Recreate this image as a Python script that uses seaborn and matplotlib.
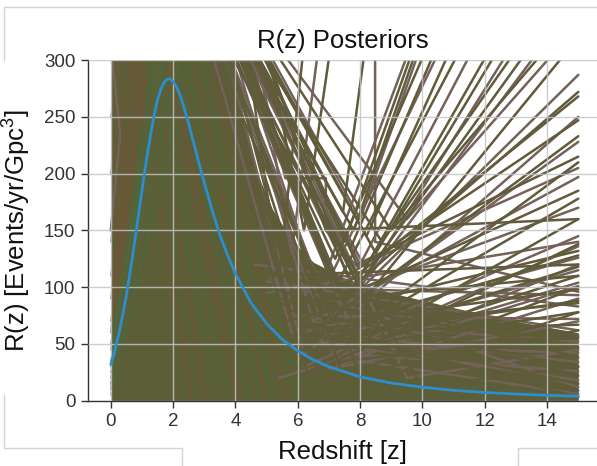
import numpy as np
import pandas as pd
import matplotlib.pyplot as plt
from matplotlib.lines import Line2D
import seaborn as sns

# blue reference rate curve
curve_z = [0, 0.1, 0.25, 0.4, 0.5, 0.6, 0.75, 0.9, 1.0, 1.1, 1.25, 1.3, 1.4, 1.5, 1.6,
           1.7, 1.8, 1.9, 2.0, 2.1, 2.2, 2.25, 2.4, 2.5, 2.6, 2.75, 2.8, 3.0, 3.25, 3.5,
           3.75, 4.0, 4.5, 5.0, 5.5, 6.0, 6.5, 7.0, 8.0, 9.0, 10.0, 11.0, 12.0, 13.0,
           14.0, 15.0]
curve_r = [32, 41, 58, 78, 93, 110, 137, 166, 185, 204, 230, 238, 253, 265, 274,
           280, 283, 283.5, 281, 277, 270.5, 267, 253.5, 244, 233, 218, 212, 192, 168, 146,
           128, 112, 86, 68, 54, 44, 36, 30, 21, 15.6, 11.9, 9.2, 7.3, 5.9,
           4.8, 4.0]

# dense core of the posterior draws (upper envelope)
core_z = [0, 3.95, 4.3, 4.7, 5.2, 5.8, 6.5, 7.5, 9.0, 11.0, 13.0, 15.0]
core_r = [300, 300, 240, 200, 168, 142, 122, 108, 95, 82, 70, 60]

# posterior draws: start above the frame, dip, then end at z=15 or above the frame
OFF_TOP = 340
start_z = [3.6, 3.2, 3.9, 3.4, 4.1, 3.0, 3.7, 4.3, 3.5, 2.9, 3.8, 3.3, 4.0, 3.1, 4.6,
           3.4, 2.8, 3.9, 3.2, 3.5, 3.0, 3.7, 3.3, 2.7, 3.8, 3.1,
           4.2, 4.5, 4.8, 4.0, 3.6, 4.1, 3.8, 4.4, 3.5, 4.0, 3.3, 4.2, 3.7, 3.9,
           3.4, 4.3, 3.6, 4.0, 3.2, 3.8, 4.5, 3.5, 4.6]
dip_z = [6.6, 6.9, 7.2, 6.2, 7.6, 6.0, 7.0, 7.9, 6.4, 5.8, 7.4, 6.7, 8.1, 6.3, 6.9,
         7.8, 6.1, 8.4, 7.3, 8.8, 6.8, 9.2, 7.6, 8.0, 9.5, 10.0,
         5.4, 5.8, 6.2, 7.45, 7.0, 7.5, 7.8, 8.0, 7.2, 7.7, 6.8, 8.2, 7.3, 8.0,
         7.5, 8.5, 7.9, 8.7, 7.1, 8.3, 9.0, 7.7, 9.5]
dip_r = [60, 80, 95, 40, 110, 50, 70, 120, 35, 60, 90, 45, 100, 25, 150,
         60, 20, 75, 30, 55, 15, 40, 10, 25, 20, 12,
         110, 130, 150, 166, 120, 140, 150, 160, 125, 135, 95, 145, 105, 120,
         85, 130, 95, 140, 70, 110, 150, 75, 160]
end_z = [15] * 26 + [6.3, 6.8, 7.2, 8.3, 10.0, 10.1, 10.2, 10.3, 10.6, 10.9, 11.1,
                     11.4, 11.8, 12.2, 12.8, 13.1, 13.5, 13.8, 14.2, 14.6, 14.9, 15.6, 15.3]
end_r = [287, 272, 268, 250, 247, 233, 228, 215, 210, 197, 185, 178, 170, 160, 160,
         145, 138, 128, 120, 110, 100, 90, 78, 62, 45, 30] + [OFF_TOP] * 23

# low fan of draws towards the right edge
low_z0 = [5.0, 5.6, 6.2, 4.8, 6.8, 5.4, 7.2, 6.0, 5.2, 6.6, 4.6, 7.0, 5.8, 6.4, 5.0,
          7.4, 6.1, 5.5, 6.9, 4.9, 6.3, 5.7, 7.1, 5.3, 6.7, 6.0, 5.1, 6.5, 7.3, 5.9,
          6.2, 7.6, 5.4, 6.8, 7.0, 5.6]
low_r0 = [95, 70, 60, 110, 50, 85, 40, 65, 100, 55, 120, 45, 75, 60, 105,
          35, 70, 90, 50, 115, 62, 80, 42, 98, 52, 68, 108, 58, 38, 72,
          30, 55, 20, 64, 28, 44]
low_r15 = [140, 132, 126, 120, 115, 110, 104, 98, 93, 88, 83, 78, 72, 67, 62,
           57, 52, 47, 42, 38, 34, 30, 26, 22, 18, 15, 12, 9, 6, 3,
           136, 118, 101, 86, 70, 55]

# odd draws: flat step, vertical drop and the one hugging the left edge
step_z = [4.3, 5.6, 6.9, 6.9, 7.9, 15.0]
step_r = [OFF_TOP, 196, 196, 150, 118, 205]
drop_z = [8.48, 8.48, 15.0]
drop_r = [OFF_TOP, 140, 96]
edge_z = [0.05, 0.3, 0.1, 0.0]
edge_r = [300, 235, 180, 150]

# extra draws running through the core
rise_r0 = [10, 35, 60, 20, 90, 5, 140, 45, 200, 25, 70, 15, 110, 50, 250, 30]
rise_ztop = [1.1, 1.6, 0.9, 2.2, 1.3, 2.8, 0.8, 1.9, 0.6, 2.5, 1.4, 3.1, 1.0, 2.0, 0.5, 1.7]
fall_ztop = [0.8, 1.5, 2.1, 1.2, 2.6, 0.5, 1.8, 2.9, 1.0, 2.3, 3.3, 1.6]
fall_zbot = [3.5, 4.0, 4.8, 3.0, 5.2, 2.6, 4.4, 5.6, 3.8, 5.0, 6.0, 4.2]

sns.set_theme(style='ticks')
plt.rcParams['font.family'] = ['Liberation Sans', 'DejaVu Sans']
plt.rcParams['mathtext.fontset'] = 'custom'
plt.rcParams['mathtext.rm'] = 'Liberation Sans'
plt.rcParams['mathtext.default'] = 'regular'

rows = []
for i in range(len(start_z)):
    for z, r in [(start_z[i], OFF_TOP), (dip_z[i], dip_r[i]), (end_z[i], end_r[i])]:
        rows.append({'line': i, 'z': z, 'R': r, 'tone': 'olive' if i % 3 else 'brown'})
n = len(start_z)
for k, (zs, rs) in enumerate([(step_z, step_r), (drop_z, drop_r), (edge_z, edge_r)]):
    for z, r in zip(zs, rs):
        rows.append({'line': n + k, 'z': z, 'R': r, 'tone': 'brown'})
n += 3
for i in range(len(low_z0)):
    tone = 'olive' if i % 2 else 'brown'
    rows.append({'line': n + i, 'z': low_z0[i], 'R': low_r0[i], 'tone': tone})
    rows.append({'line': n + i, 'z': 15.0, 'R': low_r15[i], 'tone': tone})
draws = pd.DataFrame(rows)

tex = []
for i in range(len(rise_r0)):
    tex.append({'line': i, 'z': 0.0, 'R': rise_r0[i], 'tone': 'green' if i % 2 else 'rust'})
    tex.append({'line': i, 'z': rise_ztop[i], 'R': OFF_TOP, 'tone': 'green' if i % 2 else 'rust'})
m = len(rise_r0)
for i in range(len(fall_ztop)):
    tex.append({'line': m + i, 'z': fall_ztop[i], 'R': OFF_TOP, 'tone': 'rust' if i % 2 else 'green'})
    tex.append({'line': m + i, 'z': fall_zbot[i], 'R': 0.0, 'tone': 'rust' if i % 2 else 'green'})
texture = pd.DataFrame(tex)

fig = plt.figure(figsize=(5.97, 4.66), dpi=100)
ax = fig.add_axes([0.147, 0.140, 0.853, 0.731])

ax.fill_between(core_z, 0, core_r, color='#5c5e37', lw=0, zorder=1)
sns.lineplot(data=texture, x='z', y='R', units='line', estimator=None, sort=False,
             hue='tone', palette={'green': '#4b6c3b', 'rust': '#7c5136'},
             lw=1.2, alpha=0.6, legend=False, ax=ax)
sns.lineplot(data=draws, x='z', y='R', units='line', estimator=None, sort=False,
             hue='tone', palette={'olive': '#605b3a', 'brown': '#74625a'},
             lw=1.8, legend=False, ax=ax)
ax.plot(curve_z, curve_r, color='#2b8fcf', lw=2.0, zorder=3, solid_joinstyle='round')

ax.set_xlim(-0.74, 15.6)
ax.set_ylim(0, 300)
ax.set_xticks(np.arange(0, 15, 2))
ax.set_yticks(np.arange(0, 301, 50))
ax.set_axisbelow(False)
ax.grid(True, color='#c4c4c4', lw=1.0, alpha=0.85)
for s in ['top', 'right']:
    ax.spines[s].set_visible(False)
for s in ['left', 'bottom']:
    ax.spines[s].set_color('#333333')
    ax.spines[s].set_linewidth(1.0)
ax.tick_params(direction='out', length=5, width=1, colors='#333333',
               labelsize=13.5, pad=4)

ax.set_title('R(z) Posteriors', fontsize=18.5, pad=9, color='#111111')
ax.set_xlabel('Redshift [z]', fontsize=18.5, color='#111111')
ax.set_ylabel('R(z) [Events/yr/Gpc$^3$]', fontsize=18.5, color='#111111')
ax.xaxis.set_label_coords(0.5, -0.115)
ax.yaxis.set_label_coords(-0.108, 0.5)

# faint border pieces from the original screenshot
W, H = 597, 466
border = [([4, 597], [7, 7]), ([4, 4], [7, 60]), ([4, 4], [395, 448]),
          ([4, 182], [448, 448]), ([182, 182], [448, 466]),
          ([518, 597], [448, 448]), ([518, 518], [448, 466])]
for xs, ys in border:
    fig.add_artist(Line2D([x / W for x in xs], [1 - y / H for y in ys],
                          color='#d4d4d4', lw=1.0))

fig.savefig('out.png', dpi=100)
